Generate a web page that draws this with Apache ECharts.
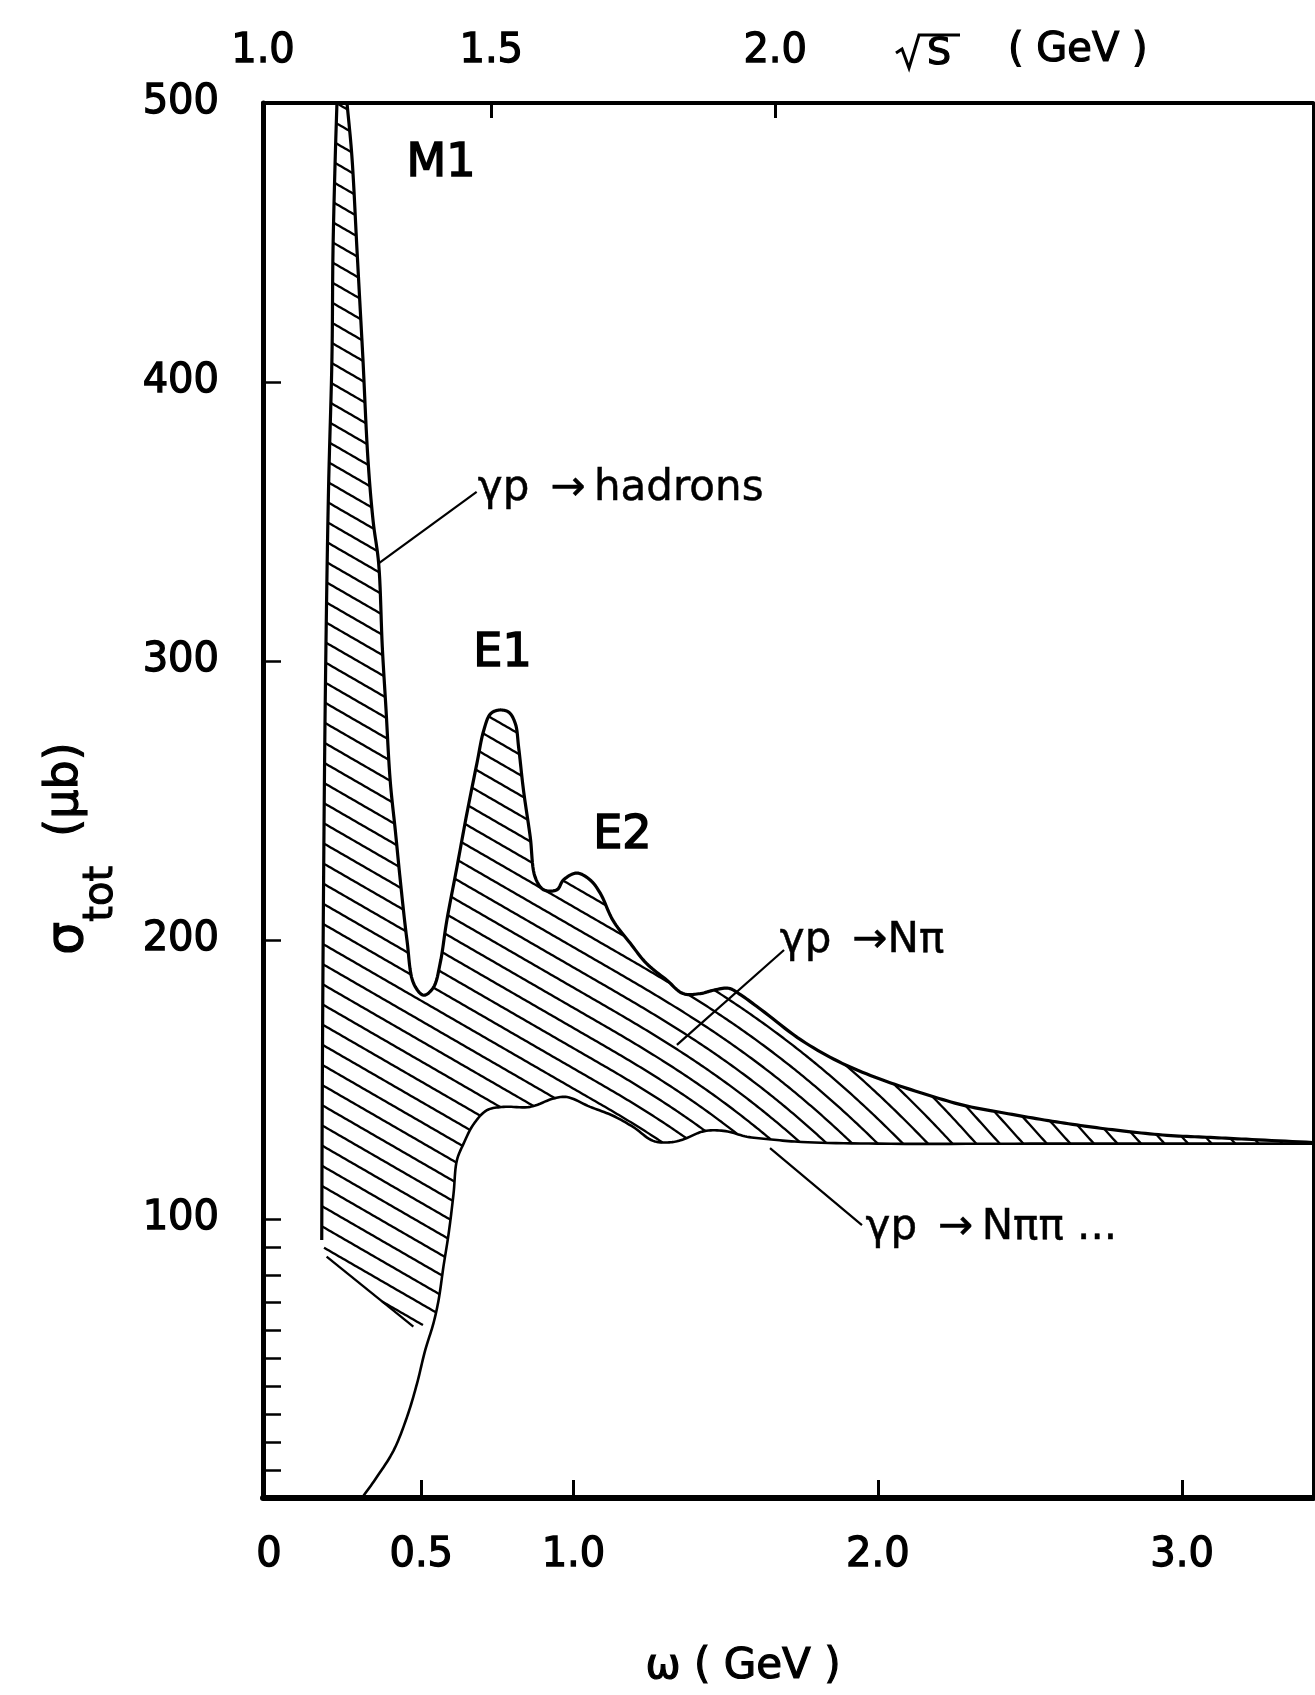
<!DOCTYPE html>
<html>
<head>
<meta charset="utf-8">
<title>Total photoabsorption cross section of the proton</title>
<script src="https://cdn.jsdelivr.net/npm/echarts@6/dist/echarts.min.js"></script>
<style>
  html, body { margin: 0; padding: 0; background: #fff; }
  #chart { width: 1315px; height: 1695px; }
</style>
</head>
<body>
<div id="chart"></div>
<script>
// Photon energy ω (GeV) against total cross section σ_tot (μb)

// γp → hadrons: left edge of the band, over the M1 peak, then E1, E2 and the tail
const totalOmega = [0.173, 0.175, 0.179, 0.185, 0.195, 0.2066, 0.210, 0.2175, 0.223, 0.256,
  0.272, 0.289, 0.300, 0.308, 0.325, 0.342, 0.360, 0.372, 0.384, 0.398,
  0.415, 0.431, 0.453, 0.475, 0.508, 0.540, 0.562, 0.584, 0.617, 0.650,
  0.683, 0.705, 0.727, 0.754, 0.787, 0.809, 0.820, 0.836, 0.858, 0.874,
  0.902, 0.946, 0.967, 1.011, 1.055, 1.088, 1.130, 1.187, 1.240, 1.307,
  1.360, 1.417, 1.460, 1.510, 1.550, 1.617, 1.750, 1.883, 2.016, 2.149,
  2.280, 2.415, 2.547, 2.680, 2.810, 2.950, 3.080, 3.210, 3.430];
const totalSigma = [92.5, 150, 220, 290, 360, 409, 447, 481, 500, 500,
  481, 447, 425, 409, 372, 350, 335, 305, 283, 257,
  239, 221.5, 200, 184.4, 180.2, 183, 191.6, 207, 226, 245.4,
  263.4, 275, 281, 282.4, 281.7, 277.6, 269, 253.6, 237, 222.6,
  218, 218, 221.5, 224, 221.5, 216.8, 207, 198.8, 191.6, 185.6,
  180.8, 180.8, 182, 182.7, 180.3, 175, 164, 155.8, 149.8, 145,
  140.8, 138, 135.5, 133.3, 131.5, 130, 129.3, 128.6, 127.4];
// sharp corners of the total curve (top of the M1 peak, cut by the frame)
const totalCorners = [8, 9];

// γp → Nππ... : rises from threshold, then nearly flat
const multiPionOmega = [0.305, 0.354, 0.409, 0.453, 0.486, 0.513, 0.540, 0.557, 0.573, 0.590,
  0.606, 0.617, 0.639, 0.672, 0.716, 0.770, 0.858, 0.935, 0.979, 1.055,
  1.130, 1.196, 1.262, 1.320, 1.360, 1.430, 1.500, 1.570, 1.650, 1.750,
  2.000, 2.500, 3.000, 3.430];
const multiPionSigma = [0, 7.5, 17, 29, 41, 53, 62.6, 71, 83, 94.8,
  109, 121, 127, 134, 139, 140.2, 140.2, 143.2, 143.7, 140.2,
  137, 133, 128, 127.5, 128.5, 131.5, 131.5, 129.5, 128.5, 127.6,
  127, 127, 127, 127];

// where the hatching stops at the lower left (it leaves the Nππ curve at ω = 0.54)
const hatchJoinOmega = 0.540;
const hatchEdgeOmega = [0.474, 0.189];
const hatchEdgeSigma = [61.4, 86.5];

// axes
const omegaMin = -0.02, omegaMax = 3.43;
const omegaLabelValues = [0, 0.5, 1.0, 2.0, 3.0];
const omegaLabelText = ['0', '0.5', '1.0', '2.0', '3.0'];
const omegaTicks = [0.5, 1.0, 2.0, 3.0];
const sigmaLabelValues = [100, 200, 300, 400, 500];
const sigmaTicks = [10, 20, 30, 40, 50, 60, 70, 80, 90, 100, 200, 300, 400];
const sqrtSLabelText = ['1.0', '1.5', '2.0'];
const sqrtSLabelOmega = [-0.02, 0.730, 1.663];
const sqrtSTicks = [0.730, 1.663];

// annotations
const peakLabels = ['M1', 'E1', 'E2'];
const peakLabelOmega = [0.565, 0.767, 1.161];
const peakLabelSigma = [478, 302.5, 237.3];
const channelLabels = ['γp\u2002→\u2009hadrons', 'γp\u2002→Nπ', 'γp\u2002→\u2009Nππ ...'];
const channelLabelOmega = [0.686, 1.678, 1.960];
const channelLabelSigma = [361.6, 199.6, 96.8];
const leaderFromOmega = [0.360, 1.340, 1.646];
const leaderFromSigma = [335, 162.4, 125.4];
const leaderToOmega = [0.682, 1.692, 1.948];
const leaderToSigma = [360.6, 196.4, 97.8];

const FONT = '"DejaVu Sans", "Noto Sans", sans-serif';
const INK = '#000';

// hatching: ruled lines that turn steeper along the tail of the band
const HATCH = { gap: 17.5, angleFrom: 30, angleTo: 48, turnFrom: 1.1, turnTo: 2.3, pivot: [1.7, 148], width: 2.3 };

function pickLabel(values, texts) {
  return function (v) {
    let best = 0;
    for (let i = 1; i < values.length; i++) {
      if (Math.abs(values[i] - v) < Math.abs(values[best] - v)) best = i;
    }
    return texts[best];
  };
}

// centripetal Catmull-Rom through the points, keeping the listed corners sharp;
// returns the drawn points and, for every input point, its index in them
function smoothCurve(pts, corners) {
  const out = [pts[0]];
  const at = [0];
  const isCorner = i => corners.indexOf(i) >= 0;
  const d = (a, b) => Math.max(1e-6, Math.sqrt(Math.hypot(b[0] - a[0], b[1] - a[1])));
  const lerp = (a, b, ta, tb, t) => {
    const u = (t - ta) / (tb - ta);
    return [a[0] + (b[0] - a[0]) * u, a[1] + (b[1] - a[1]) * u];
  };
  for (let i = 0; i < pts.length - 1; i++) {
    const p1 = pts[i], p2 = pts[i + 1];
    const p0 = (i === 0 || isCorner(i)) ? [2 * p1[0] - p2[0], 2 * p1[1] - p2[1]] : pts[i - 1];
    const p3 = (i + 1 === pts.length - 1 || isCorner(i + 1)) ? [2 * p2[0] - p1[0], 2 * p2[1] - p1[1]] : pts[i + 2];
    const t0 = 0, t1 = t0 + d(p0, p1), t2 = t1 + d(p1, p2), t3 = t2 + d(p2, p3);
    const steps = 10;
    for (let s = 1; s <= steps; s++) {
      const t = t1 + (t2 - t1) * s / steps;
      const A1 = lerp(p0, p1, t0, t1, t), A2 = lerp(p1, p2, t1, t2, t), A3 = lerp(p2, p3, t2, t3, t);
      const B1 = lerp(A1, A2, t0, t2, t), B2 = lerp(A2, A3, t1, t3, t);
      out.push(lerp(B1, B2, t1, t2, t));
    }
    at.push(out.length - 1);
  }
  return { pts: out, at };
}

function insidePoly(poly, x, y) {
  let inside = false;
  for (let i = 0, j = poly.length - 1; i < poly.length; j = i++) {
    const xi = poly[i][0], yi = poly[i][1], xj = poly[j][0], yj = poly[j][1];
    if ((yi > y) !== (yj > y) && x < (xj - xi) * (y - yi) / (yj - yi) + xi) inside = !inside;
  }
  return inside;
}

function hatchLines(poly, api) {
  const xs = poly.map(p => p[0]);
  const x0 = Math.floor(Math.min.apply(null, xs)) - 2;
  const x1 = Math.ceil(Math.max.apply(null, xs)) + 2;
  const xa = api.coord([HATCH.turnFrom, 0])[0];
  const xb = api.coord([HATCH.turnTo, 0])[0];
  const ta = HATCH.angleFrom * Math.PI / 180, tb = HATCH.angleTo * Math.PI / 180;
  const theta = x => {
    let u = (x - xa) / (xb - xa);
    u = u < 0 ? 0 : u > 1 ? 1 : u;
    return ta + (tb - ta) * u * u * (3 - 2 * u);
  };
  const n = x1 - x0 + 1;
  const G = new Float64Array(n), H = new Float64Array(n);
  for (let i = 0; i < n; i++) {
    H[i] = HATCH.gap / Math.cos(theta(x0 + i));
    if (i > 0) G[i] = G[i - 1] + Math.tan(theta(x0 + i - 0.5));
  }
  const pv = api.coord(HATCH.pivot);
  const pi = Math.max(0, Math.min(n - 1, Math.round(pv[0] - x0)));
  const shift = pv[1] - G[pi];
  for (let i = 0; i < n; i++) G[i] += shift;
  const at = (arr, x) => {
    const f = x - x0;
    const i = Math.max(0, Math.min(n - 2, Math.floor(f)));
    const t = f - i;
    return arr[i] * (1 - t) + arr[i + 1] * t;
  };
  let kMin = Infinity, kMax = -Infinity;
  poly.forEach(p => {
    const k = (p[1] - at(G, p[0])) / at(H, p[0]);
    if (k < kMin) kMin = k;
    if (k > kMax) kMax = k;
  });
  const out = [];
  const step = 2;
  for (let k = Math.floor(kMin) - 1; k <= Math.ceil(kMax) + 1; k++) {
    const yAt = x => at(G, x) + k * at(H, x);
    let run = null, prevIn = false, prevX = null;
    for (let x = x0; x <= x1; x += step) {
      const y = yAt(x);
      const inn = insidePoly(poly, x, y);
      if (prevX !== null && inn !== prevIn) {
        let a = prevX, b = x;
        for (let it = 0; it < 12; it++) {
          const m = (a + b) / 2;
          if (insidePoly(poly, m, yAt(m)) === prevIn) a = m; else b = m;
        }
        const xm = (a + b) / 2;
        if (inn) run = [[xm, yAt(xm)]];
        else if (run) { run.push([xm, yAt(xm)]); out.push(run); run = null; }
      }
      if (inn) { if (!run) run = []; run.push([x, y]); }
      prevIn = inn; prevX = x;
    }
    if (run) out.push(run);
  }
  return out;
}

function renderBand(params, api) {
  if (params.dataIndex !== 0) return null;
  const P = (w, s) => api.coord([w, s]);
  const upper = smoothCurve(totalOmega.map((w, i) => P(w, totalSigma[i])), totalCorners);
  const lower = smoothCurve(multiPionOmega.map((w, i) => P(w, multiPionSigma[i])), []);
  const j = multiPionOmega.indexOf(hatchJoinOmega);
  const lowerPart = lower.pts.slice(lower.at[j]).reverse();
  const edge = hatchEdgeOmega.map((w, i) => P(w, hatchEdgeSigma[i]));
  const poly = upper.pts.concat(lowerPart, edge);
  const hatchStyle = { stroke: INK, lineWidth: HATCH.width, fill: null, lineCap: 'butt' };
  const children = hatchLines(poly, api).map(pts => ({
    type: 'polyline', silent: true, shape: { points: pts }, style: hatchStyle
  }));
  // the lowest ruled line closes the hatching at the lower left
  children.push({
    type: 'polyline', silent: true, shape: { points: edge }, style: hatchStyle
  });
  children.push({
    type: 'polyline', silent: true, shape: { points: upper.pts },
    style: { stroke: INK, lineWidth: 3.2, fill: null, lineJoin: 'round' }
  });
  children.push({
    type: 'polyline', silent: true, shape: { points: lower.pts },
    style: { stroke: INK, lineWidth: 2.6, fill: null, lineJoin: 'round' }
  });
  return { type: 'group', children };
}

function renderLeader(params, api) {
  const i = params.dataIndex;
  const a = api.coord([leaderFromOmega[i], leaderFromSigma[i]]);
  const b = api.coord([leaderToOmega[i], leaderToSigma[i]]);
  return {
    type: 'line', silent: true,
    shape: { x1: a[0], y1: a[1], x2: b[0], y2: b[1] },
    style: { stroke: INK, lineWidth: 2.2 }
  };
}

function renderPeakLabel(params, api) {
  const i = params.dataIndex;
  const p = api.coord([peakLabelOmega[i], peakLabelSigma[i]]);
  return {
    type: 'text', silent: true, x: p[0], y: p[1],
    style: { text: peakLabels[i], fill: INK, stroke: INK, lineWidth: 1.6, fontSize: 46, fontFamily: FONT, align: 'center', verticalAlign: 'middle' }
  };
}

function renderChannelLabel(params, api) {
  const i = params.dataIndex;
  const p = api.coord([channelLabelOmega[i], channelLabelSigma[i]]);
  return {
    type: 'text', silent: true, x: p[0], y: p[1],
    style: { text: channelLabels[i], fill: INK, stroke: INK, lineWidth: 0.5, fontSize: 42, fontFamily: FONT, align: 'left', verticalAlign: 'middle' }
  };
}

const axisText = { color: INK, fontFamily: FONT, fontSize: 40, lineHeight: 40, textBorderColor: INK, textBorderWidth: 1.3 };

const option = {
  backgroundColor: '#fff',
  animation: false,
  grid: { left: 263, top: 103, width: 1050, height: 1395, show: false },
  xAxis: [
    {
      type: 'value', position: 'bottom', min: omegaMin, max: omegaMax,
      axisLine: { show: true, onZero: false, lineStyle: { color: INK, width: 6 } },
      axisTick: { show: true, inside: true, length: 18, customValues: omegaTicks, lineStyle: { color: INK, width: 3 } },
      axisLabel: Object.assign({ customValues: omegaLabelValues, margin: 38, formatter: pickLabel(omegaLabelValues, omegaLabelText) }, axisText),
      splitLine: { show: false },
      name: 'ω ( GeV )', nameLocation: 'middle', nameGap: 148,
      nameTextStyle: { color: INK, fontFamily: FONT, fontSize: 42, lineHeight: 42, textBorderColor: INK, textBorderWidth: 1.2, padding: [0, 90, 0, 0] }
    },
    {
      type: 'value', position: 'top', min: omegaMin, max: omegaMax,
      axisLine: { show: true, onZero: false, lineStyle: { color: INK, width: 4 } },
      axisTick: { show: true, inside: true, length: 15, customValues: sqrtSTicks, lineStyle: { color: INK, width: 3 } },
      axisLabel: Object.assign({ customValues: sqrtSLabelOmega, margin: 31, formatter: pickLabel(sqrtSLabelOmega, sqrtSLabelText) }, axisText),
      splitLine: { show: false }
    }
  ],
  yAxis: [
    {
      type: 'value', position: 'left', min: 0, max: 500,
      axisLine: { show: true, onZero: false, lineStyle: { color: INK, width: 5 } },
      axisTick: { show: true, inside: true, length: 18, customValues: sigmaTicks, lineStyle: { color: INK, width: 2.5 } },
      axisLabel: Object.assign({ customValues: sigmaLabelValues, margin: 44 }, axisText),
      splitLine: { show: false },
      name: '{s|σ}{t|tot}{u|  (μb)}', nameLocation: 'middle', nameRotate: 90, nameGap: 165,
      nameTextStyle: {
        color: INK, fontFamily: FONT, padding: [0, 96, 0, 0],
        rich: {
          s: { fontSize: 52, lineHeight: 56, verticalAlign: 'top', fontFamily: FONT, color: INK, textBorderColor: INK, textBorderWidth: 1.3 },
          t: { fontSize: 40, lineHeight: 44, padding: [40, 0, 0, 0], verticalAlign: 'top', fontFamily: FONT, color: INK, textBorderColor: INK, textBorderWidth: 1.1 },
          u: { fontSize: 46, lineHeight: 56, verticalAlign: 'top', fontFamily: FONT, color: INK, textBorderColor: INK, textBorderWidth: 1.2 }
        }
      }
    },
    {
      type: 'value', position: 'right', min: 0, max: 500,
      axisLine: { show: true, onZero: false, lineStyle: { color: INK, width: 3 } },
      axisTick: { show: false }, axisLabel: { show: false }, splitLine: { show: false }
    }
  ],
  graphic: [
    // radical sign with its bar over S
    { type: 'polyline', silent: true, shape: { points: [[896, 53], [902, 49], [909, 68], [919, 35], [960, 35]] },
      style: { stroke: INK, lineWidth: 3, fill: null, lineJoin: 'miter' } },
    { type: 'text', x: 939, y: 54, silent: true,
      style: { text: 'S', fill: INK, stroke: INK, lineWidth: 1.2, fontSize: 38, fontFamily: FONT, align: 'center', verticalAlign: 'middle' } },
    { type: 'text', x: 1008, y: 51, silent: true,
      style: { text: '( GeV )', fill: INK, stroke: INK, lineWidth: 1.2, fontSize: 40, fontFamily: FONT, align: 'left', verticalAlign: 'middle' } }
  ],
  series: [
    { type: 'custom', name: 'band', coordinateSystem: 'cartesian2d', xAxisIndex: 0, yAxisIndex: 0,
      clip: true, silent: true, data: [[totalOmega[0], totalSigma[0]]], renderItem: renderBand },
    { type: 'custom', name: 'leaders', coordinateSystem: 'cartesian2d', clip: false, silent: true,
      data: leaderFromOmega.map((w, i) => [w, leaderFromSigma[i]]), renderItem: renderLeader },
    { type: 'custom', name: 'peaks', coordinateSystem: 'cartesian2d', clip: false, silent: true,
      data: peakLabelOmega.map((w, i) => [w, peakLabelSigma[i]]), renderItem: renderPeakLabel },
    { type: 'custom', name: 'channels', coordinateSystem: 'cartesian2d', clip: false, silent: true,
      data: channelLabelOmega.map((w, i) => [w, channelLabelSigma[i]]), renderItem: renderChannelLabel }
  ]
};

const chart = echarts.init(document.getElementById('chart'), null, { renderer: 'canvas' });
chart.setOption(option);
</script>
</body>
</html>
